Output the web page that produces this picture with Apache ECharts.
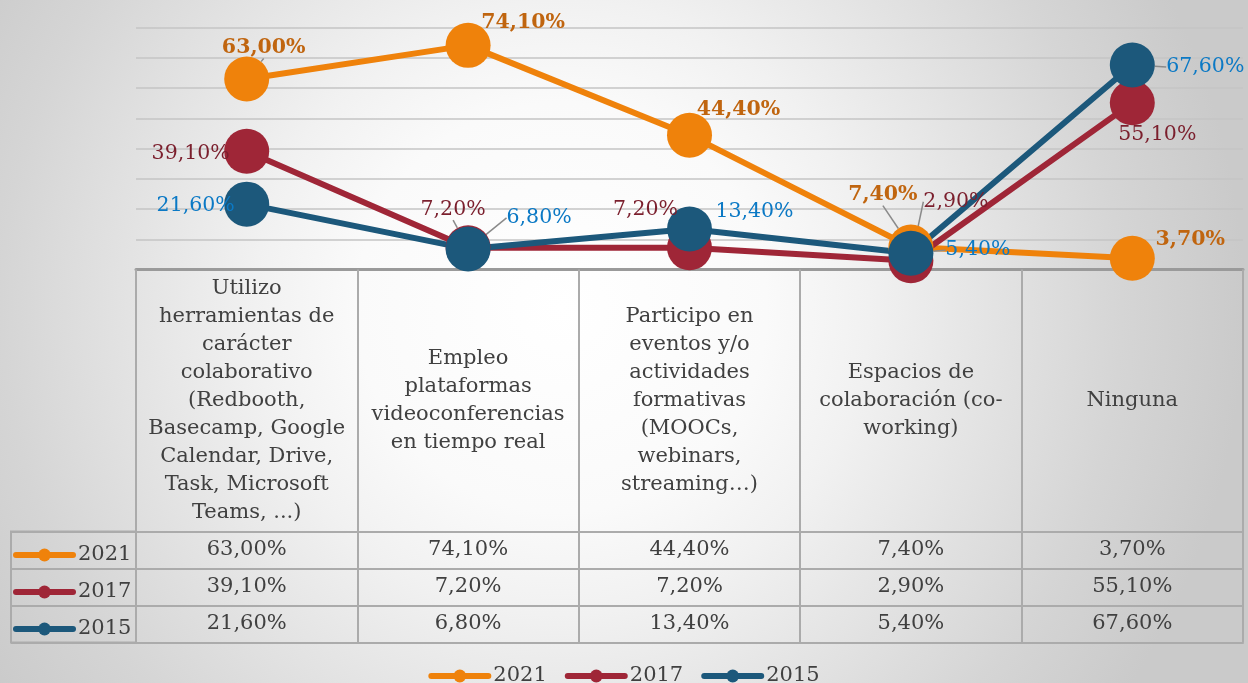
<!DOCTYPE html>
<html>
<head>
<meta charset="utf-8">
<script src="https://cdn.jsdelivr.net/npm/echarts@6/dist/echarts.min.js"></script>
<style>html,body{margin:0;padding:0;}#c{width:1248px;height:683px;}</style>
</head>
<body>
<div id="c"></div>
<script>
// ---- data ----
const categories = [
  "Utilizo\nherramientas de\ncarácter\ncolaborativo\n(Redbooth,\nBasecamp, Google\nCalendar, Drive,\nTask, Microsoft\nTeams, ...)",
  "Empleo\nplataformas\nvideoconferencias\nen tiempo real",
  "Participo en\neventos y/o\nactividades\nformativas\n(MOOCs,\nwebinars,\nstreaming…)",
  "Espacios de\ncolaboración (co-\nworking)",
  "Ninguna"
];
const seriesNames = ["2021", "2017", "2015"];
const values2021 = [63.0, 74.1, 44.4, 7.4, 3.7];
const values2017 = [39.1, 7.2, 7.2, 2.9, 55.1];
const values2015 = [21.6, 6.8, 13.4, 5.4, 67.6];
const yMin = 0, yMax = 80, yInterval = 10;

// ---- style ----
const colors = ["#EF820B", "#9F2637", "#1C587B"];
const labelColors = ["#C0650F", "#7B1F2D", "#0B79C5"];
const labelWeights = ["bold", "normal", "normal"];
const labelOffsets = [
  [[17,-31],[55,-23],[49,-26],[-28,-52],[58,-19]],
  [[-56,2],[-15,-38],[-44,-38],[45,-59],[25,32]],
  [[-51,2],[71,-31],[65,-17],[67,-3],[73,2]]
];
const leaders = [
  [1,0,0,1,0],
  [0,1,1,1,0],
  [0,1,0,1,1]
];
const FONT = "DejaVu Serif";
const TXT = "#404040";
const BORDER = "#ababab";

const allValues = [values2021, values2017, values2015];
const fmt = v => v.toFixed(2).replace('.', ',') + '%';

const series = seriesNames.map((name, s) => ({
  name: name,
  type: 'line',
  xAxisIndex: 0, yAxisIndex: 0,
  data: allValues[s].map((v, i) => ({
    value: v,
    labelLine: { show: !!leaders[s][i] }
  })),
  symbol: 'circle',
  symbolSize: 45,
  lineStyle: { color: colors[s], width: 6 },
  itemStyle: { color: colors[s] },
  label: {
    show: true,
    position: 'inside',
    align: 'center',
    verticalAlign: 'middle',
    formatter: p => fmt(p.value),
    color: labelColors[s],
    fontFamily: FONT,
    fontSize: 20.5,
    fontWeight: labelWeights[s]
  },
  labelLine: { show: false, lineStyle: { color: '#8a8a8a', width: 1.5 } },
  labelLayout: p => {
    const o = labelOffsets[p.seriesIndex][p.dataIndex];
    return { dx: o[0], dy: o[1] };
  },
  emphasis: { disabled: true },
  animation: false
}));

const rowAxes = allValues.map((vals, r) => ({
  type: 'category',
  gridIndex: 0,
  position: 'bottom',
  offset: 262 + 37 * r,
  data: categories,
  axisLine: { show: true, lineStyle: { color: BORDER, width: 2 } },
  axisTick: { show: true, alignWithLabel: false, interval: 0, length: 37, lineStyle: { color: BORDER, width: 2 } },
  axisLabel: {
    interval: 0, margin: 18.5, verticalAlign: 'middle',
    formatter: (val, idx) => fmt(vals[idx]),
    color: TXT, fontFamily: FONT, fontSize: 21
  },
  splitLine: { show: false }
}));

const legendCommon = {
  itemWidth: 57, itemHeight: 16,
  textStyle: { color: TXT, fontFamily: FONT, fontSize: 21, lineHeight: 24 },
  lineStyle: { width: 6, cap: 'round' },
  data: seriesNames
};

const option = {
  backgroundColor: {
    type: 'radial', x: 0.45, y: 0.45, r: 1.0,
    colorStops: [
      { offset: 0, color: '#ffffff' },
      { offset: 0.3, color: '#fafafa' },
      { offset: 0.45, color: '#f1f1f1' },
      { offset: 0.82, color: '#d5d5d5' },
      { offset: 1, color: '#cacaca' }
    ]
  },
  animation: false,
  grid: [
    { left: 136, right: 5, top: 27.5, height: 242 },
    { left: 11, top: 531.5, width: 125, height: 111, show: true, borderColor: BORDER, borderWidth: 2, backgroundColor: 'transparent' }
  ],
  xAxis: [
    {
      type: 'category', gridIndex: 0, position: 'bottom',
      data: categories,
      axisLine: { show: true, lineStyle: { color: '#9a9a9a', width: 3 } },
      axisTick: { show: true, alignWithLabel: false, interval: 0, length: 262, lineStyle: { color: BORDER, width: 2 } },
      axisLabel: { interval: 0, margin: 131, verticalAlign: 'middle', color: TXT, fontFamily: FONT, fontSize: 21, lineHeight: 28, align: 'center' },
      splitLine: { show: false }
    },
    ...rowAxes,
    {
      type: 'category', gridIndex: 0, position: 'bottom', offset: 373,
      data: categories,
      axisLine: { show: true, lineStyle: { color: BORDER, width: 2 } },
      axisTick: { show: false }, axisLabel: { show: false }, splitLine: { show: false }
    },
    { type: 'value', gridIndex: 1, show: false }
  ],
  yAxis: [
    {
      type: 'value', gridIndex: 0, min: yMin, max: yMax, interval: yInterval,
      axisLine: { show: false }, axisTick: { show: false }, axisLabel: { show: false },
      splitLine: { show: true, lineStyle: { color: '#c4c4c4', width: 1.5 } }
    },
    {
      type: 'category', gridIndex: 1, inverse: true, data: seriesNames,
      axisLine: { show: false }, axisTick: { show: false }, axisLabel: { show: false },
      splitLine: { show: true, interval: 0, lineStyle: { color: BORDER, width: 2 } }
    }
  ],
  legend: [
    Object.assign({ orient: 'vertical', left: 8, top: 538, itemGap: 13 }, legendCommon),
    Object.assign({ orient: 'horizontal', left: 'center', top: 659, itemGap: 18 }, legendCommon)
  ],
  series: series
};

const chart = echarts.init(document.getElementById('c'), null, { renderer: 'canvas' });
chart.setOption(option);
</script>
</body>
</html>
